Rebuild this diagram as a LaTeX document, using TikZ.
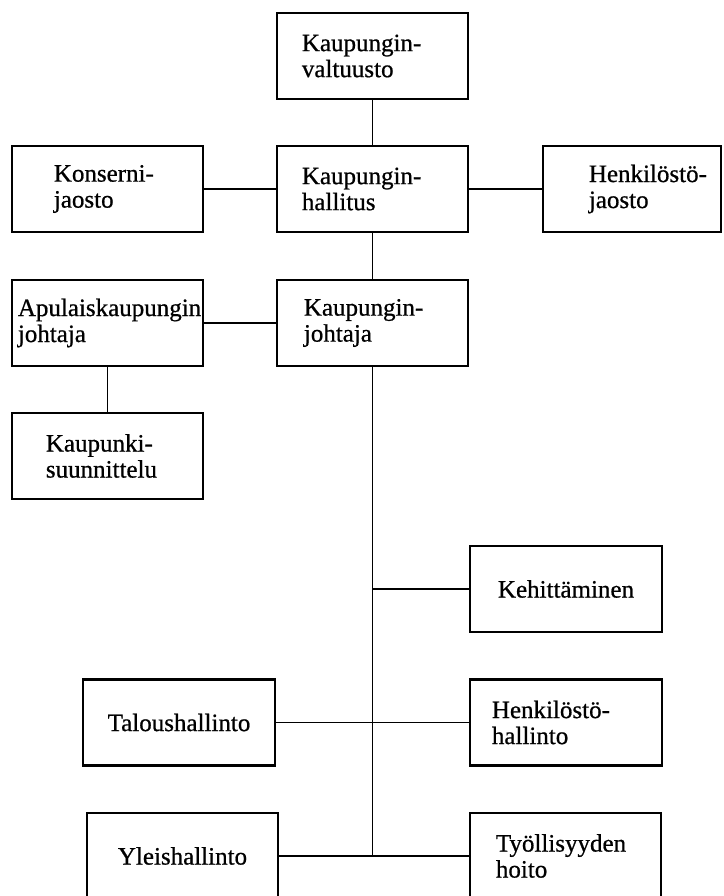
\documentclass[tikz,border=0pt]{standalone}
\usepackage{fontspec}
\setmainfont{Liberation Serif}
\newfontface\lblfont{Liberation Serif}[FakeBold=0.7]
\begin{document}
\begin{tikzpicture}[x=1pt,y=-1pt,
  orgbox/.style={draw=black, line width=2.6pt, inner sep=0pt,
    minimum width=191pt, minimum height=86pt},
  lbl/.style={anchor=west, inner sep=0pt, align=left,
    font=\lblfont\fontsize{25}{26}\selectfont, text=black},
  clbl/.style={inner sep=0pt, align=center,
    font=\lblfont\fontsize{25}{26}\selectfont, text=black},
  link/.style={draw=black, line width=1.8pt}]
\useasboundingbox (0,0) rectangle (723,896);
\fill[white] (0,0) rectangle (723,896);

% boxes (centre positions)
\node[orgbox] (valt) at (372.5,56) {};
\node[orgbox] (hall) at (372.5,189) {};
\node[orgbox] (kons) at (107.5,189) {};
\node[orgbox, minimum width=178pt] (henj) at (632,189) {};
\node[orgbox] (apul) at (107.5,323) {};
\node[orgbox] (joht) at (372.5,323) {};
\node[orgbox] (ksuu) at (107.5,456) {};
\node[orgbox, minimum width=192pt] (keh) at (566,589) {};
\node[orgbox, minimum width=192pt] (hhal) at (566,722.5) {};
\node[orgbox, minimum width=192pt] (talo) at (179,722.5) {};
\node[orgbox] (ylei) at (182.5,856) {};
\node[orgbox] (tyo) at (565.5,856) {};

% labels
\node[lbl] (valt-t) at ([xshift=26pt]valt.west) {Kaupungin-\\valtuusto};
\node[lbl] (hall-t) at ([xshift=26pt]hall.west) {Kaupungin-\\hallitus};
\node[lbl] (kons-t) at ([xshift=43pt]kons.west) {Konserni-\\jaosto};
\node[lbl] (henj-t) at ([xshift=47pt]henj.west) {Henkilöstö-\\jaosto};
\node[lbl] (apul-t) at ([xshift=7pt]apul.west) {Apulaiskaupungin\\johtaja};
\node[lbl] (joht-t) at ([xshift=28pt]joht.west) {Kaupungin-\\johtaja};
\node[lbl] (ksuu-t) at ([xshift=35pt]ksuu.west) {Kaupunki-\\suunnittelu};
\node[clbl] (keh-t) at (keh.center) {Kehittäminen};
\node[lbl] (hhal-t) at ([xshift=23pt]hhal.west) {Henkilöstö-\\hallinto};
\node[clbl] (talo-t) at (talo.center) {Taloushallinto};
\node[clbl] (ylei-t) at (ylei.center) {Yleishallinto};
\node[lbl] (tyo-t) at ([xshift=27pt]tyo.west) {Työllisyyden\\hoito};

% connectors
\draw[link] (valt.south) -- (hall.north);
\draw[link] (kons.east) -- (hall.west);
\draw[link] (hall.east) -- (henj.west);
\draw[link] (hall.south) -- (joht.north);
\draw[link] (apul.east) -- (joht.west);
\draw[link] (apul.south) -- (ksuu.north);
\coordinate (trunkend) at (joht.south |- ylei.east);
\draw[link] (joht.south) -- (trunkend);
\draw[link] (keh.west) -- (keh.west -| joht.south);
\draw[link] (talo.east) -- (hhal.west);
\draw[link] (ylei.east) -- (tyo.west);
\end{tikzpicture}
\end{document}
